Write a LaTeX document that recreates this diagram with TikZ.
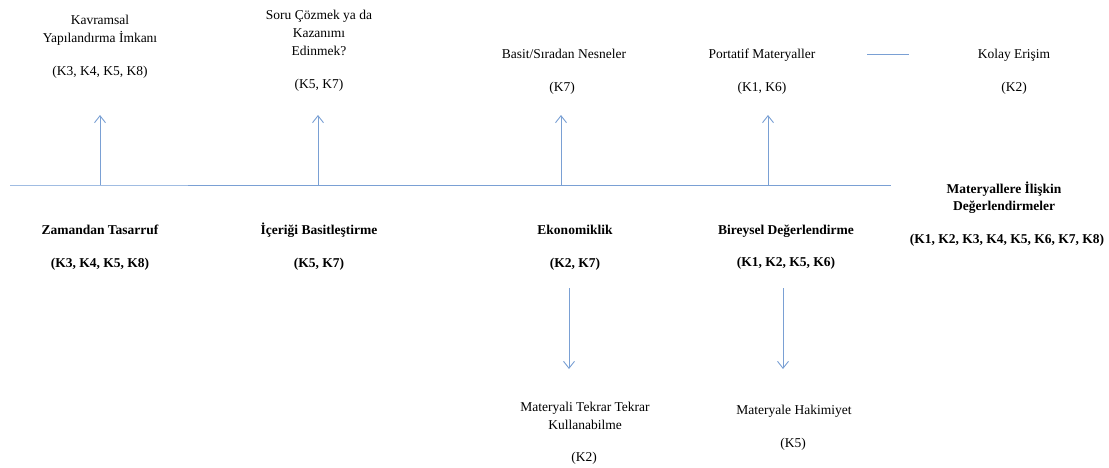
\documentclass[tikz,border=0pt]{standalone}
\usepackage{fontspec}
\setmainfont{Liberation Serif}
\usetikzlibrary{arrows.meta}
\definecolor{linkblue}{RGB}{122,160,212}
\definecolor{linkpale}{RGB}{160,188,226}
\tikzset{
  lbl/.style={anchor=base, inner sep=0pt, align=center,
    font=\fontsize{13.5}{18}\selectfont},
  blbl/.style={lbl, font=\fontsize{13.5}{17}\selectfont\bfseries},
  link/.style={draw=linkblue, line width=1pt},
  uparrow/.style={link, -{Straight Barb[length=7pt,width=11pt,line width=0.9pt]}},
}
\begin{document}
\begin{tikzpicture}[x=1pt, y=-1pt]
\useasboundingbox (0,0) rectangle (1109,467);

% axis line
\coordinate (axL) at (10,185);
\coordinate (axM) at (188,185);
\coordinate (axR) at (891,185);
\draw[draw=linkpale, line width=1pt] (axL) -- (axM);
\draw[link] (axM) -- (axR);

% upper labels (multi-line nodes sit on the baseline of their last line)
\node[lbl] (kav)  at (100,42.5) {Kavramsal\\Yapılandırma İmkanı};
\node[lbl] (kavk) at (100,75.5) {(K3, K4, K5, K8)};
\node[lbl] (soru)  at (319,55.5) {Soru Çözmek ya da\\Kazanımı\\Edinmek?};
\node[lbl] (soruk) at (319,88.5) {(K5, K7)};
\node[lbl] (basit)  at (564,58.5) {Basit/Sıradan Nesneler};
\node[lbl] (basitk) at (562,91.5) {(K7)};
\node[lbl] (port)  at (762,58.5) {Portatif Materyaller};
\node[lbl] (portk) at (762,91.5) {(K1, K6)};
\node[lbl] (kolay)  at (1014,58.5) {Kolay Erişim};
\node[lbl] (kolayk) at (1014,91.5) {(K2)};

% right-hand summary
\node[blbl] (mat)  at (1004,210.5) {Materyallere İlişkin\\Değerlendirmeler};
\node[blbl] (matk) at (1007,243.5) {(K1, K2, K3, K4, K5, K6, K7, K8)};

% lower labels
\node[blbl] (zam)  at (100,234.5) {Zamandan Tasarruf};
\node[blbl] (zamk) at (100,267.5) {(K3, K4, K5, K8)};
\node[blbl] (ice)  at (319,234.5) {İçeriği Basitleştirme};
\node[blbl] (icek) at (319,267.5) {(K5, K7)};
\node[blbl] (eko)  at (575,234.5) {Ekonomiklik};
\node[blbl] (ekok) at (575,267.5) {(K2, K7)};
\node[blbl] (bir)  at (786,234.5) {Bireysel Değerlendirme};
\node[blbl] (birk) at (786,266.5) {(K1, K2, K5, K6)};

% bottom labels
\node[lbl] (tek)  at (585,429.5) {Materyali Tekrar Tekrar\\Kullanabilme};
\node[lbl] (tekk) at (584,461.5) {(K2)};
\node[lbl] (hak)  at (794,414.5) {Materyale Hakimiyet};
\node[lbl] (hakk) at (793,447.5) {(K5)};

% upward arrows from the axis
\coordinate (u1b) at (100,185); \coordinate (u1t) at (100,115);
\coordinate (u2b) at (318,185); \coordinate (u2t) at (318,115);
\coordinate (u3b) at (561,185); \coordinate (u3t) at (561,115);
\coordinate (u4b) at (768,185); \coordinate (u4t) at (768,115);
\draw[uparrow] (u1b) -- (u1t);
\draw[uparrow] (u2b) -- (u2t);
\draw[uparrow] (u3b) -- (u3t);
\draw[uparrow] (u4b) -- (u4t);

% downward arrows
\coordinate (d1t) at (569,288); \coordinate (d1b) at (569,369);
\coordinate (d2t) at (783,288); \coordinate (d2b) at (783,369);
\draw[uparrow] (d1t) -- (d1b);
\draw[uparrow] (d2t) -- (d2b);

% short link beside "Kolay Erişim"
\coordinate (k1) at (867,54); \coordinate (k2) at (909,54);
\draw[link] (k1) -- (k2);
\end{tikzpicture}
\end{document}
